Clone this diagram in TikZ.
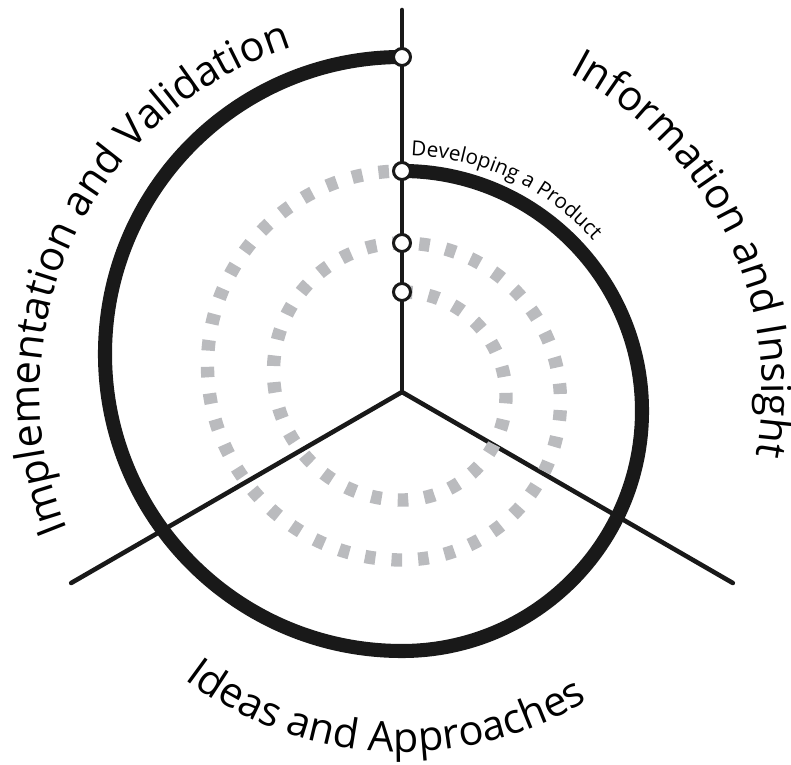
\documentclass[tikz,border=0pt]{standalone}
\usepackage{fontspec}
\setmainfont{Open Sans}
\usetikzlibrary{decorations.text}
\definecolor{trailgray}{RGB}{186,187,190}
\newcommand{\sectorfont}{\fontsize{23.6}{25}\selectfont}
\newcommand{\stagefont}{\fontsize{11.8}{13}\selectfont}

\begin{document}
\begin{tikzpicture}[
  x=0.02cm, y=0.02cm,
  spoke/.style={draw=black!90, line width=2.6pt, line cap=round},
  trail/.style={draw=trailgray, line width=7.6pt, dash pattern=on 6pt off 9.2pt},
  track/.style={draw=black!90, line width=8pt},
  stop/.style={circle, draw=black!90, fill=white, line width=1.7pt, inner sep=0pt, minimum size=0.34cm},
]
  \useasboundingbox (-402,-372) rectangle (389,392);

  \coordinate (hub) at (0,0);
  \coordinate (north) at (90:382);
  \coordinate (southwest) at (210:382);
  \coordinate (southeast) at (330:382);
  \coordinate (p1) at (0,100);
  \coordinate (p2) at (0,149);
  \coordinate (p3) at (0,221);
  \coordinate (p4) at (0,335);

  \draw[spoke] (hub) -- (north);
  \draw[spoke] (hub) -- (southwest);
  \draw[spoke] (hub) -- (southeast);

  \draw[trail] (p1) arc[start angle=90, end angle=-90, radius=104]
    arc[start angle=-90, end angle=-270, radius=128.5]
    arc[start angle=90, end angle=-90, radius=158.5]
    arc[start angle=-90, end angle=-270, radius=194.5];
  \draw[track] (p3) arc[start angle=90, end angle=-90, radius=240]
    arc[start angle=-90, end angle=-270, radius=297];

  \node[stop] (start) at (p1) {};
  \node[stop] (turn) at (p2) {};
  \node[stop] (product) at (p3) {};
  \node[stop] (finish) at (p4) {};

  \path[decorate, decoration={text along path, text align=center,
    text={|\sectorfont|Implementation and Validation}}]
    (226:362) arc[start angle=226, end angle=84, radius=362];
  \path[decorate, decoration={text along path, text align=center,
    text={|\sectorfont|Information and Insight}}]
    (96:360) arc[start angle=96, end angle=-44, radius=360];
  \path[decorate, decoration={text along path, text align=center,
    text={|\sectorfont|Ideas and Approaches}}]
    (199:360) arc[start angle=199, end angle=335, radius=360];
  \path[decorate, decoration={text along path, text align=left,
    text={|\stagefont|Developing a Product}}]
    (0,-19) ++(88:256) arc[start angle=88, end angle=20, radius=256];
\end{tikzpicture}
\end{document}
